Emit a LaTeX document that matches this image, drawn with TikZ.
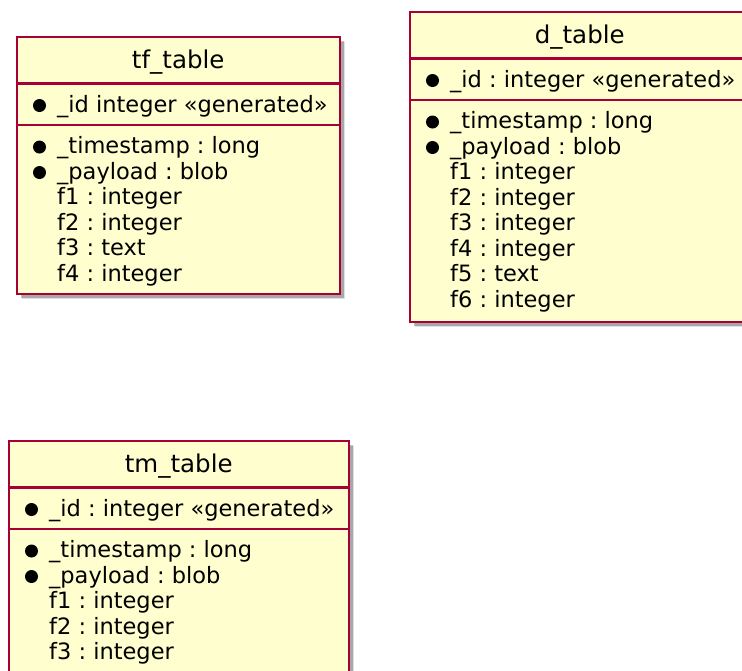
\documentclass[tikz,border=0pt]{standalone}
\usepackage{fontspec}
\setmainfont{DejaVu Sans}
\usetikzlibrary{positioning, shadows}
\definecolor{umlfill}{HTML}{FEFECE}
\definecolor{umlred}{HTML}{A80036}
\frenchspacing

\begin{document}
\begin{tikzpicture}[
				x=1pt, y=-1pt,
				entity/.style={draw=umlred, fill=umlfill, line width=1.5pt, anchor=north west,
					inner sep=0pt, minimum width=#1,
					drop shadow={shadow xshift=5.5pt, shadow yshift=-5.5pt, opacity=0.12, fill=black},
					drop shadow={shadow xshift=4pt, shadow yshift=-4pt, opacity=0.25, fill=black}},
				title/.style={font=\fontsize{24.5}{29}\selectfont, anchor=base, inner sep=0pt},
				field/.style={font=\fontsize{22.5}{25.5}\selectfont, anchor=base west, inner sep=0pt},
				key/.style={circle, fill=black, inner sep=0pt, minimum size=13pt},
				headline/.style={draw=umlred, line width=2.6pt},
				keyline/.style={draw=umlred, line width=1.2pt}
				]
				\useasboundingbox (0,0) rectangle (742,670);
				% entities
				\node[entity=323pt, minimum height=257pt] (tf) at (16,36) {};
				\node[entity=340pt, minimum height=310pt] (d) at (409,11) {};
				\node[entity=340pt, minimum height=260pt] (tm) at (8,440) {};
				% titles
				\node[title] (tf-name) at ([yshift=-32pt]tf.north) {tf\_table};
				\node[title] (d-name) at ([yshift=-32pt]d.north) {d\_table};
				\node[title] (tm-name) at ([yshift=-32pt]tm.north) {tm\_table};
				% compartments
				\foreach \t in {tf, d, tm} {
					\draw[headline] ([yshift=-47.5pt]\t.north west) -- ([yshift=-47.5pt]\t.north east);
					\draw[keyline] ([yshift=-89pt]\t.north west) -- ([yshift=-89pt]\t.north east);
					\node[key] (\t-k0) at ([xshift=23.5pt, yshift=-69.5pt]\t.north west) {};
					\node[key] (\t-k1) at ([xshift=23.5pt, yshift=-111pt]\t.north west) {};
					\node[key] (\t-k2) at ([xshift=23.5pt, yshift=-136.5pt]\t.north west) {};
					\node[field] (\t-ts) at ([xshift=41pt, yshift=-117.5pt]\t.north west) {\_timestamp : long};
					\node[field] (\t-pl) at ([xshift=41pt, yshift=-143pt]\t.north west) {\_payload : blob};
				}
				\node[field] (tf-id) at ([xshift=41pt, yshift=-76pt]tf.north west) {\_id integer «generated»};
				\node[field] (d-id) at ([xshift=41pt, yshift=-76pt]d.north west) {\_id : integer «generated»};
				\node[field] (tm-id) at ([xshift=41pt, yshift=-76pt]tm.north west) {\_id : integer «generated»};
				% plain fields
				\foreach \f [count=\i from 0] in {f1 : integer, f2 : integer, f3 : text, f4 : integer}
					\node[field] (tf-f\i) at ([xshift=41pt, yshift={-168.5pt-25.5pt*\i}]tf.north west) {\f};
				\foreach \f [count=\i from 0] in {f1 : integer, f2 : integer, f3 : integer, f4 : integer, f5 : text, f6 : integer}
					\node[field] (d-f\i) at ([xshift=41pt, yshift={-168.5pt-25.5pt*\i}]d.north west) {\f};
				\foreach \f [count=\i from 0] in {f1 : integer, f2 : integer, f3 : integer}
					\node[field] (tm-f\i) at ([xshift=41pt, yshift={-168.5pt-25.5pt*\i}]tm.north west) {\f};
			\end{tikzpicture}
\end{document}
